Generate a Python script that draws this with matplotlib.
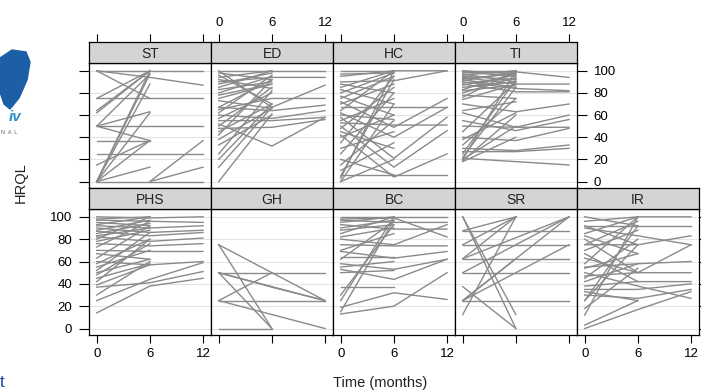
import matplotlib
matplotlib.use("Agg")
import matplotlib.pyplot as plt
from matplotlib.patches import Polygon
import numpy as np

N = np.nan
months = [0, 6, 12]

# each tuple: HRQL score at 0, 6 and 12 months (nan = missing)
ST = [(100, 100, 100), (100, 94, 87), (100, 75, N), (75, 100, N), (75, 75, 75),
      (64, 100, N), (50, 97, N), (50, 50, 50), (50, 63, N), (50, 37, N),
      (37, 37, N), (N, 0, 37), (25, 25, 25), (15, 37, N), (0, 13, N),
      (0, 0, 0), (0, 100, N), (0, 97, N), (0, 88, N), (0, 62, N),
      (0, 37, N), (N, 0, 13), (62, 100, N)]

ED = [(100, 100, 100), (98, 92, N), (94, 100, N), (92, 84, N), (90, 94, 94),
      (88, 98, N), (85, 100, N), (83, 90, N), (80, 95, N), (78, 88, N),
      (100, 67, 87), (96, 70, N), (67, 64, 69), (67, 92, N), (65, 75, 75),
      (62, 96, N), (60, 57, 64), (57, 80, N), (55, 55, 58), (52, 32, 58),
      (50, 85, N), (48, 49, 56), (45, 70, N), (42, 92, N), (38, 66, N),
      (33, 60, N), (25, 82, N), (20, 70, N), (13, 67, N), (0, 61, N),
      (73, 66, N), (75, 88, N)]

HC = [(100, 100, N), (97, 98, N), (95, 100, 100), (90, 91, 100), (88, 80, N),
      (85, 100, N), (83, 70, N), (80, 98, N), (77, 60, N), (75, 95, N),
      (72, 49, 75), (70, 88, N), (67, 67, 67), (64, 100, N), (62, 40, 67),
      (60, 56, N), (58, 21, 58), (55, 75, N), (53, 51, 51), (50, 13, 46),
      (48, 85, N), (45, 30, N), (42, 4, 25), (40, 60, N), (35, 95, N),
      (30, 45, N), (25, 80, N), (20, 6, N), (15, 55, N), (10, 35, N),
      (6, 6, 6), (3, 100, N), (0, 20, N), (0, 70, N), (5, 92, N)]

TI = [(100, 100, N), (100, 97, N), (99, 95, N), (98, 99, 94), (97, 90, N),
      (96, 100, N), (95, 92, N), (94, 88, 88), (93, 97, N), (92, 85, N),
      (91, 99, N), (90, 84, 82), (89, 93, N), (88, 81, 81), (87, 96, N),
      (85, 90, N), (83, 98, N), (82, 87, N), (80, 94, N), (78, 75, N),
      (76, 100, N), (74, 88, N), (70, 63, 70), (64, 72, N), (62, 49, 60),
      (55, 46, 56), (50, 49, 49), (45, 90, N), (40, 37, 48), (38, 62, N),
      (33, 75, N), (30, 28, 33), (27, 27, 30), (25, 92, N), (22, 85, N),
      (20, 100, N), (20, 50, N), (19, 60, N), (21, 18, 15), (18, 40, N)]

PHS = [(100, 99, 100), (98, 100, N), (97, 96, 95), (95, 92, N), (93, 100, N),
       (92, 90, 92), (90, 86, 88), (88, 97, N), (87, 83, 86), (85, 94, N),
       (83, 90, N), (82, 78, 81), (80, 100, N), (78, 88, N), (76, 74, 76),
       (73, 96, N), (70, 69, 69), (67, 62, N), (63, 92, N), (60, 57, 60),
       (58, 80, N), (55, 70, N), (52, 86, N), (50, 62, N), (48, 76, N),
       (45, 58, N), (42, 80, N), (39, 57, N), (37, 41, 51), (30, 60, N),
       (25, 44, 59), (14, 38, 45)]

GH = [(75, 50, 25), (75, 0, N), (50, 50, 50), (50, N, 25), (50, 37, 25),
      (50, 0, N), (25, 50, N), (25, 25, 25), (25, N, 0), (0, 0, N)]

BC = [(100, 100, 100), (98, 99, 82), (97, 95, 95), (95, 100, N), (93, 89, 89),
      (90, 97, N), (88, 93, N), (85, 100, N), (82, 90, N), (80, 75, 93),
      (75, 74, 74), (70, 85, N), (69, 63, 69), (64, 64, N), (62, 96, N),
      (58, 53, 62), (55, 60, N), (53, 44, 62), (50, 52, N), (37, 37, N),
      (30, 93, N), (25, 100, N), (15, 97, N), (19, 32, 26), (13, 20, 50)]

SR = [(100, 0, N), (100, 12.5, N), (87.5, 100, N), (87.5, 87.5, 87.5),
      (75, 100, N), (75, 75, 75), (62.5, 62.5, 62.5), (62.5, 100, N),
      (50, 50, 50), (50, N, 100), (37.5, 0, N), (25, 25, 25), (25, N, 100),
      (25, N, 75), (25, 62.5, N), (12.5, 100, N), (62.5, N, 100)]

IR = [(100, 92, N), (96, 100, 100), (92, 75, N), (92, 92, 92), (90, 83, 75),
      (85, 100, N), (83, 67, N), (80, 50, N), (75, 96, N), (75, 75, 83),
      (70, 88, N), (67, 42, N), (63, 50, 75), (58, 100, N), (55, 58, 60),
      (54, 67, N), (50, 38, 27), (47, 50, 50), (45, 80, N), (42, 58, N),
      (38, 42, 42), (35, 35, 40), (33, 25, N), (30, 27, 35), (25, 75, N),
      (25, 92, N), (18, 54, N), (12, 100, N), (3, 25, N), (0, 17, 33)]

top_row = [("ST", ST), ("ED", ED), ("HC", HC), ("TI", TI)]
bottom_row = [("PHS", PHS), ("GH", GH), ("BC", BC), ("SR", SR), ("IR", IR)]

plt.rcParams['font.family'] = ['Liberation Sans', 'DejaVu Sans']

W, H = 701, 391
fig = plt.figure(figsize=(W / 100, H / 100), dpi=100)


def box(x0, y0, x1, y1):
    return fig.add_axes([x0 / W, 1 - y1 / H, (x1 - x0) / W, (y1 - y0) / H])


rows = [(top_row, 42, 63, 188), (bottom_row, 188, 209, 335)]

for r, (panels, s0, p0, p1) in enumerate(rows):
    for c, (name, data) in enumerate(panels):
        x0 = 89 + 122 * c
        ax = box(x0, p0, x0 + 122, p1)
        st = box(x0, s0, x0 + 122, p0)

        for yv in range(0, 101, 20):
            ax.axhline(yv, color='#e4e4e4', lw=0.8, zorder=0)
        for tr in data:
            t = [m for m, v in zip(months, tr) if not np.isnan(v)]
            v = [v for v in tr if not np.isnan(v)]
            ax.plot(t, v, color='#8a8a8a', lw=1.0)
        ax.set_xlim(-0.87, 12.9)
        ax.set_ylim(-5.8, 107)

        st.set_facecolor('#d4d4d4')
        st.set_xlim(-0.87, 12.9)
        st.set_yticks([])
        st.text(0.5, 0.45, name, transform=st.transAxes, ha='center',
                va='center', fontsize=10, color='#222222')

        for a in (ax, st):
            for sp in a.spines.values():
                sp.set_linewidth(0.9)
                sp.set_color('black')

        ax.set_yticks(range(0, 101, 20))
        ax.tick_params(axis='y', direction='out', length=7, width=0.8,
                       labelsize=9.5, pad=5, left=False, labelleft=False)
        if r == 0:
            ax.set_xticks([])
            st.set_xticks(months)
            st.tick_params(axis='x', direction='out', length=5.5, width=0.8,
                           top=True, bottom=False, labeltop=(c % 2 == 1),
                           labelbottom=False, labelsize=9.5, pad=4)
            if c == 0:
                ax.tick_params(axis='y', left=True)
            if c == 3:
                ax.tick_params(axis='y', right=True, labelright=True)
        else:
            st.set_xticks([])
            ax.set_xticks(months)
            ax.tick_params(axis='x', direction='out', length=5.5, width=0.8,
                           labelbottom=(c % 2 == 0), labelsize=9.5, pad=4)
            if c == 0:
                ax.tick_params(axis='y', left=True, labelleft=True)
            if c == 4:
                ax.tick_params(axis='y', right=True)

fig.text(21 / W, 1 - 183 / H, "HRQL", rotation=90, ha='center', va='center',
         fontsize=10.5, color='#222222')
fig.text(380 / W, 1 - 383 / H, "Time (months)", ha='center', va='center',
         fontsize=10.5, color='#222222')

# fragment of the journal logo on the left edge
logo = Polygon([(0 / W, 1 - 58 / H), (12 / W, 1 - 50 / H), (26 / W, 1 - 52 / H),
                (30 / W, 1 - 62 / H), (27 / W, 1 - 80 / H), (19 / W, 1 - 98 / H),
                (10 / W, 1 - 109 / H), (4 / W, 1 - 104 / H), (0 / W, 1 - 92 / H)],
               closed=True, transform=fig.transFigure, color='#1d5fa6')
fig.patches.append(logo)
fig.text(9 / W, 1 - 117 / H, "iv", fontsize=11, style='italic',
         weight='bold', color='#2e8fc4', va='center')
fig.text(1 / W, 1 - 133 / H, "N  A  L", fontsize=4, color='#666666',
         va='center')
fig.text(0 / W, 1 - 390 / H, "t", fontsize=12, color='#1a3fa8', va='bottom')

plt.savefig('out.png', dpi=100)
